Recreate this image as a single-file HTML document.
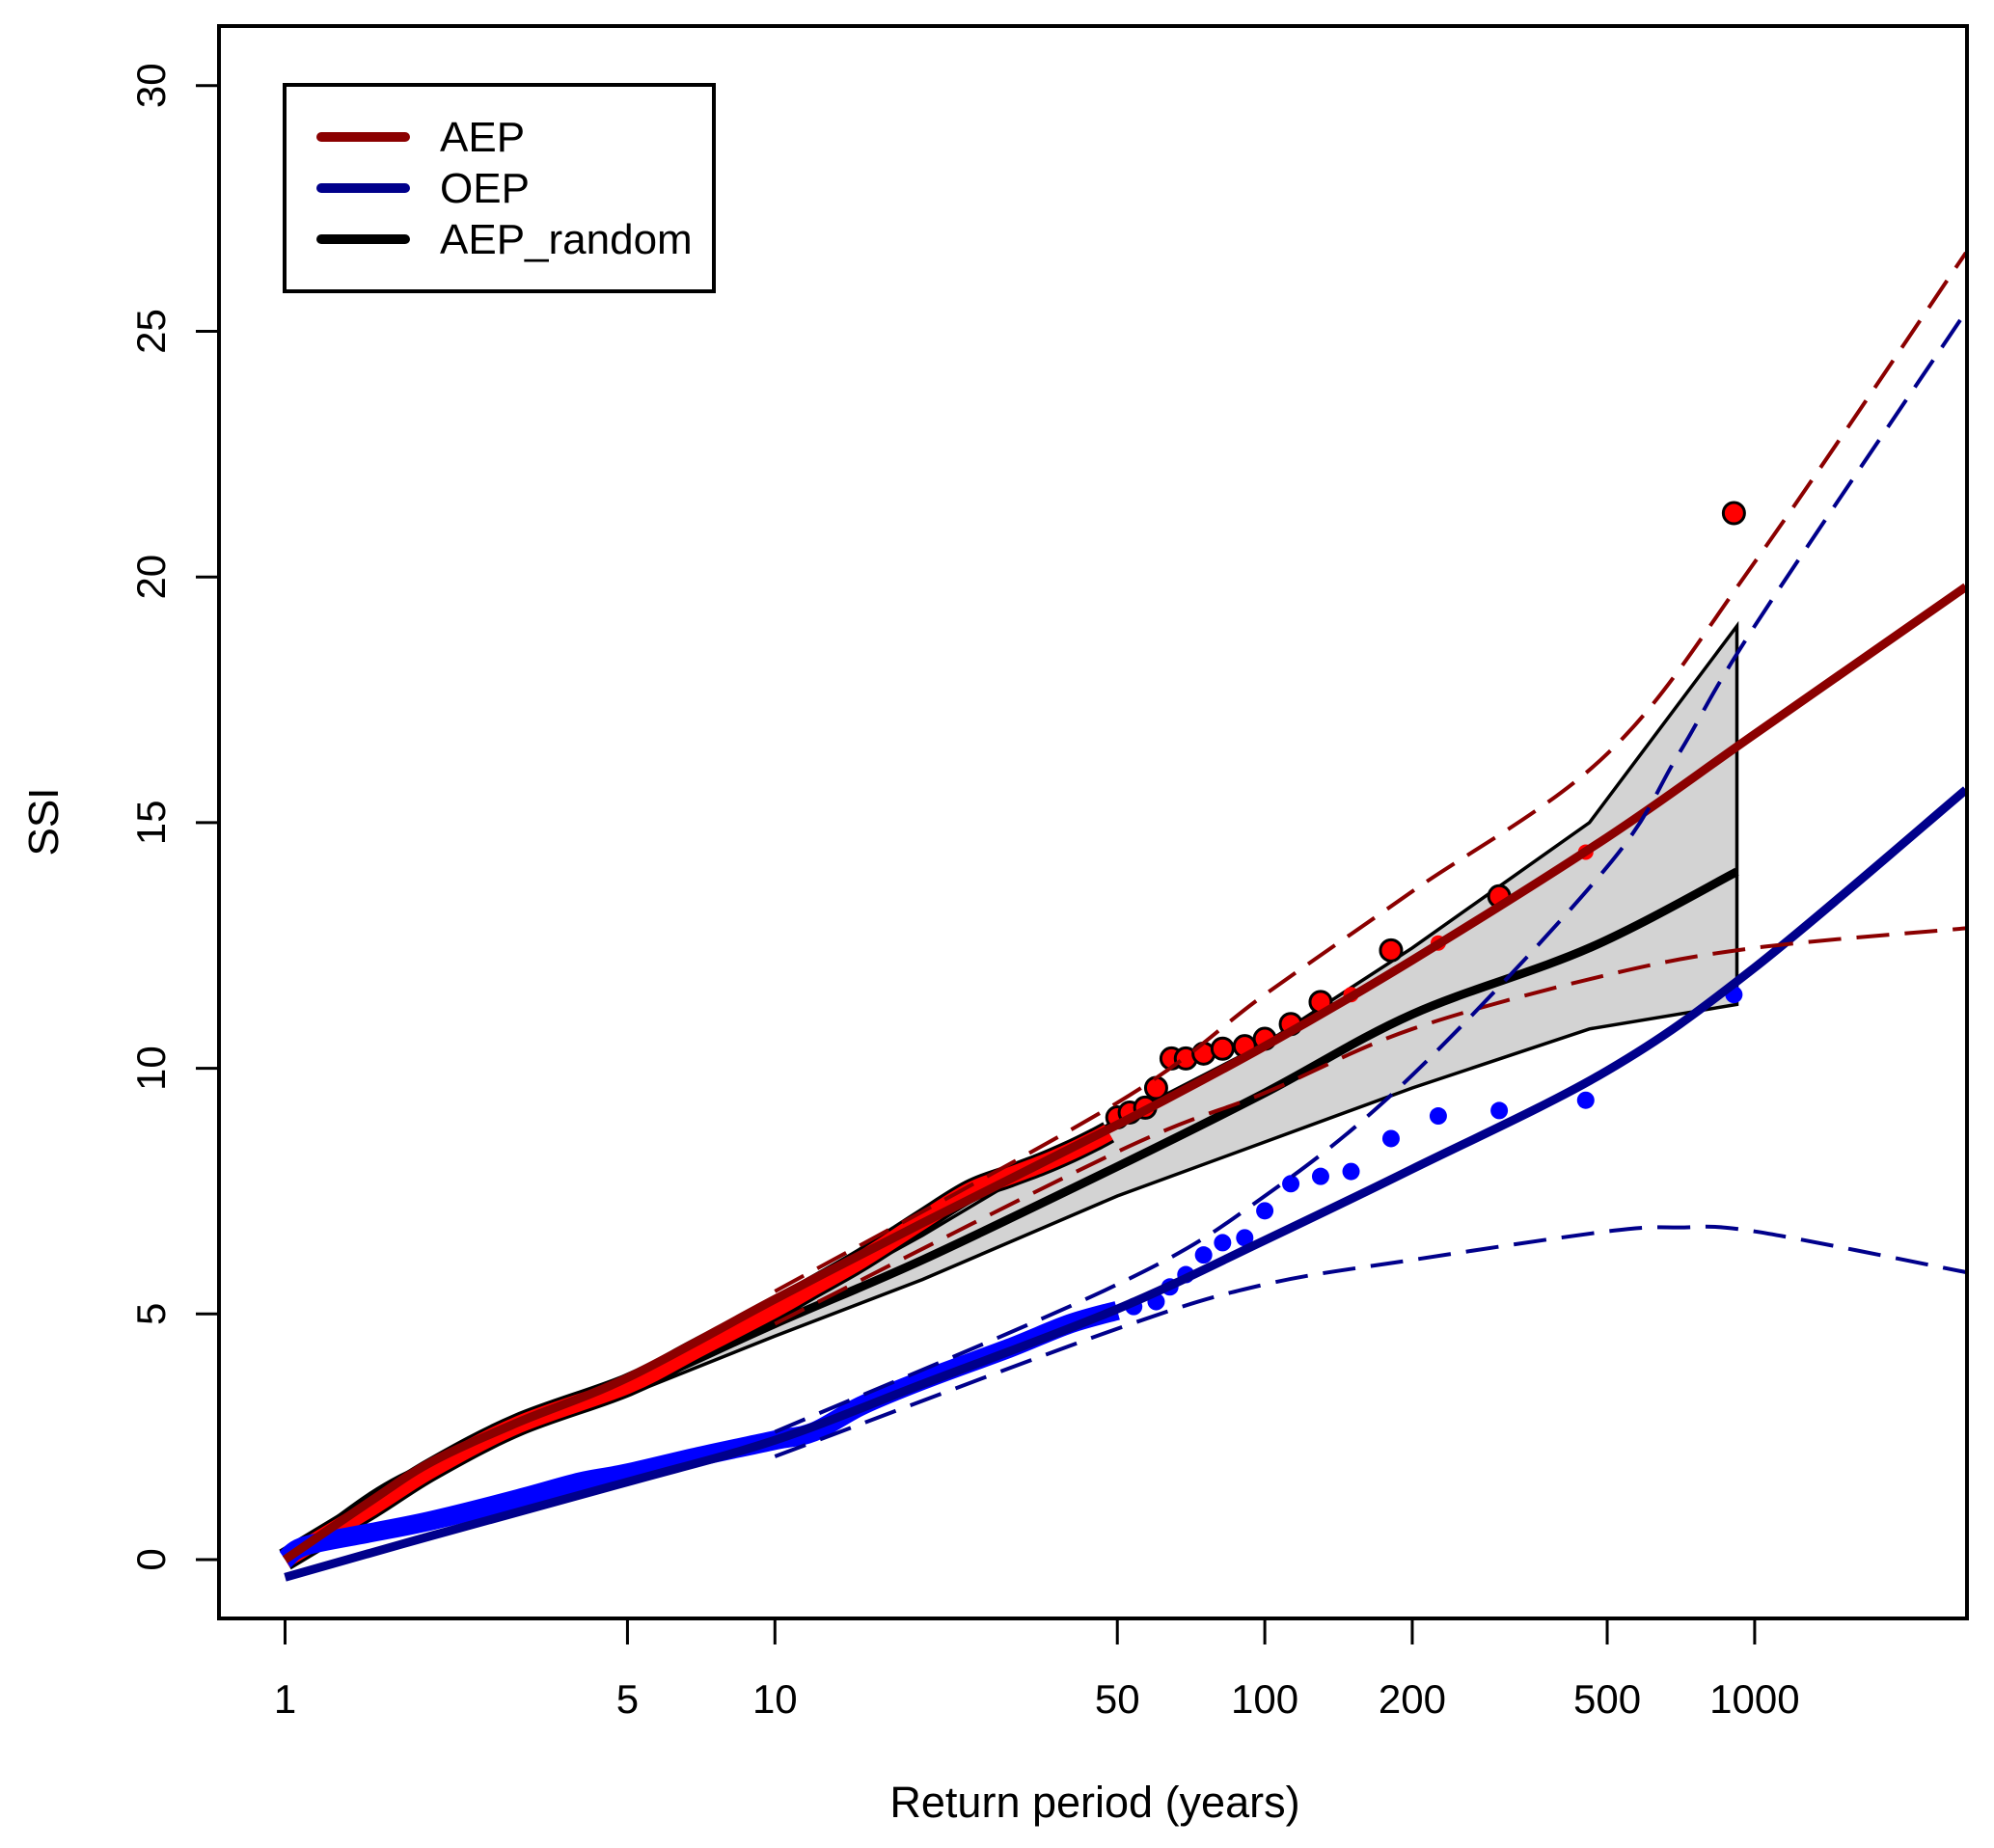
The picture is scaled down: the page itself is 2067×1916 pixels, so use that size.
<!DOCTYPE html>
<html><head><meta charset="utf-8"><style>
html,body{margin:0;padding:0;background:#fff;}
svg{display:block;font-family:"Liberation Sans",Arial,sans-serif;}
</style></head><body>
<svg id="chart" width="2067" height="1916" viewBox="0 0 2067 1916" xmlns="http://www.w3.org/2000/svg">
<rect x="0" y="0" width="2067" height="1916" fill="#fff"/>
<defs><clipPath id="plotclip"><rect x="227" y="27" width="1812" height="1651"/></clipPath></defs>
<g id="marks" clip-path="url(#plotclip)"></g>
<rect x="227" y="27" width="1812" height="1651" fill="none" stroke="#000" stroke-width="4"/>
<g id="axes"></g>
<text x="1135" y="1884" font-size="45" text-anchor="middle">Return period (years)</text>
<text transform="translate(60,852) rotate(-90)" font-size="44" text-anchor="middle">SSI</text>
<g>
<rect x="295" y="88" width="445" height="214" fill="#fff" stroke="#000" stroke-width="4"/>
<line x1="333" y1="142" x2="420" y2="142" stroke="#8b0000" stroke-width="10" stroke-linecap="round"/>
<text x="456" y="157" font-size="44">AEP</text>
<line x1="333" y1="195" x2="420" y2="195" stroke="#00008b" stroke-width="10" stroke-linecap="round"/>
<text x="456" y="210" font-size="44">OEP</text>
<line x1="333" y1="248" x2="420" y2="248" stroke="#000" stroke-width="10" stroke-linecap="round"/>
<text x="456" y="263" font-size="44">AEP_random</text>
</g>
</svg>
<script>
const xTicks = [1,5,10,50,100,200,500,1000];
const yTicks = [0,5,10,15,20,25,30];
const fitRP = [1,1.5,2,3,5,10,20,50,100,200,500,1000,2700];
const aepFit = [0,1.2,2.0,2.8,3.7,5.3,6.85,8.85,10.45,12.2,14.7,16.8,19.8];
const oepRP = [1,2,5,10,20,50,100,200,500,1000,2700];
const oepFit = [-0.36,0.49,1.58,2.43,3.57,5.1,6.5,7.95,9.95,12.05,15.67];
const ciRP = [10,50,100,200,500,1000,2700];
const aepUpper = [5.46,9.3,11.5,13.6,16.4,20.3,26.6];
const aepLower = [4.8,8.3,9.5,10.8,11.9,12.45,12.85];
const ciRP2 = [10,50,100,200,500,700,1000,2700];
const oepUpper = [2.6,5.6,7.4,9.86,14.1,16.4,19.0,25.4];
const oepLower = [2.1,4.7,5.6,6.1,6.68,6.76,6.68,5.85];
const rndRP = [1,1.5,2,3,5,10,20,50,100,200,460,920];
const rndMean = [0,1.3,1.95,2.65,3.45,4.8,6.1,8.0,9.5,11.1,12.45,14.0];
const bandRP = [3,5,10,20,50,100,200,460,920];
const bandUpper = [2.7,3.5,4.95,6.6,8.96,10.5,12.45,15.0,19.0];
const bandLower = [2.6,3.35,4.55,5.7,7.4,8.5,9.6,10.8,11.3];
const aepEmpRP = [1,1.5,2,3,5,7,10,12,15,20,25,30,35,40,45,48];
const aepEmp = [0,1.06,1.85,2.75,3.55,4.3,5.1,5.55,6.1,6.9,7.5,7.8,8.05,8.3,8.55,8.7];
const aepPtRP = [50,53,57,60,64.5,69,75,82,91,100,113,130,150,181,226,301,452,907];
const aepPt = [9.0,9.1,9.2,9.6,10.2,10.2,10.3,10.4,10.45,10.6,10.9,11.35,11.5,12.4,12.55,13.5,14.4,21.3];
const oepEmpRP = [1,1.1,1.5,2,3,4,5,7,10,12,15,20,30,40,50];
const oepEmp = [0,0.28,0.55,0.8,1.24,1.58,1.76,2.1,2.43,2.6,3.13,3.65,4.3,4.8,5.07];
const oepPtRP = [54,60,64,69,75,82,91,100,113,130,150,181,226,301,452,907];
const oepPt = [5.15,5.25,5.55,5.8,6.2,6.45,6.55,7.1,7.65,7.8,7.9,8.57,9.03,9.14,9.35,11.5];

const NS='http://www.w3.org/2000/svg';
const X = rp => 295.5 + 507.8*Math.log10(rp);
const Y = v => 1617 - 50.94*v;
const marks = document.getElementById('marks');
const axes = document.getElementById('axes');
function mk(tag, attrs, parent){const e=document.createElementNS(NS,tag);for(const k in attrs)e.setAttribute(k,attrs[k]);parent.appendChild(e);return e;}
function smooth(pts){
  let d='M'+pts[0][0].toFixed(1)+','+pts[0][1].toFixed(1);
  for(let i=0;i<pts.length-1;i++){
    const p0=pts[i-1]||pts[i],p1=pts[i],p2=pts[i+1],p3=pts[i+2]||p2;
    const c1=[p1[0]+(p2[0]-p0[0])/6,p1[1]+(p2[1]-p0[1])/6];
    const c2=[p2[0]-(p3[0]-p1[0])/6,p2[1]-(p3[1]-p1[1])/6];
    d+=' C'+c1[0].toFixed(1)+','+c1[1].toFixed(1)+' '+c2[0].toFixed(1)+','+c2[1].toFixed(1)+' '+p2[0].toFixed(1)+','+p2[1].toFixed(1);
  }
  return d;
}
function linear(pts){return 'M'+pts.map(p=>p[0].toFixed(1)+','+p[1].toFixed(1)).join(' L');}
function pts(rps,vals){return rps.map((r,i)=>[X(r),Y(vals[i])]);}
function curve(rps,vals,stroke,w,dash,name,lin){
  const p=mk('path',{d:lin?linear(pts(rps,vals)):smooth(pts(rps,vals)),fill:'none',stroke:stroke,'stroke-width':w,'stroke-linejoin':'round'},marks);
  if(dash)p.setAttribute('stroke-dasharray',dash);
  
  
  return p;
}
{
  const up=pts(bandRP,bandUpper), lo=pts(bandRP,bandLower).reverse();
  const d='M'+up.map(p=>p[0].toFixed(1)+','+p[1].toFixed(1)).join(' L')+' L'+lo.map(p=>p[0].toFixed(1)+','+p[1].toFixed(1)).join(' L')+' Z';
  const b=mk('path',{d:d,fill:'#d3d3d3',stroke:'#000','stroke-width':3.5,'stroke-linejoin':'miter'},marks);
  
  
}
curve(rndRP,rndMean,'#000',9,null,'aep-random-line',false);
curve(aepEmpRP,aepEmp,'#000',24,null,'aep-empirical-outline');
curve(aepEmpRP,aepEmp,'#ff0000',18,null,'aep-empirical-trace');
curve(oepEmpRP,oepEmp,'#0000ff',20,null,'oep-empirical-trace');
aepPt.forEach((v,i)=>{
  const small = (aepPtRP[i]===150||aepPtRP[i]===226||aepPtRP[i]===452);
  const c=mk('circle',{cx:X(aepPtRP[i]),cy:Y(v),r:small?8:11,fill:'#ff0000',stroke:small?'none':'#000','stroke-width':3},marks);
  
  
});
oepPt.forEach((v,i)=>{
  const c=mk('circle',{cx:X(oepPtRP[i]),cy:Y(v),r:9,fill:'#0000ff'},marks);
  
  
});
curve(fitRP,aepFit,'#8b0000',9,null,'aep-fit-line');
curve(oepRP,oepFit,'#00008b',9,null,'oep-fit-line');
curve(ciRP,aepUpper,'#8b0000',4,'34 16','aep-upper-ci');
curve(ciRP,aepLower,'#8b0000',4,'34 16','aep-lower-ci');
curve(ciRP2,oepUpper,'#00008b',4,'34 16','oep-upper-ci');
curve(ciRP2,oepLower,'#00008b',4,'34 16','oep-lower-ci');
xTicks.forEach(t=>{
  const l=mk('line',{x1:X(t),y1:1678,x2:X(t),y2:1705,stroke:'#000','stroke-width':3},axes);
  
  
  const tx=mk('text',{x:X(t),y:1776,'font-size':42,'text-anchor':'middle'},axes);
  tx.textContent=t;
  
  
});
yTicks.forEach(t=>{
  const l=mk('line',{x1:203,y1:Y(t),x2:227,y2:Y(t),stroke:'#000','stroke-width':3},axes);
  
  
  const tx=mk('text',{transform:'translate(171,'+Y(t)+') rotate(-90)','font-size':42,'text-anchor':'middle'},axes);
  tx.textContent=t;
  
  
});
</script>
</body></html>
